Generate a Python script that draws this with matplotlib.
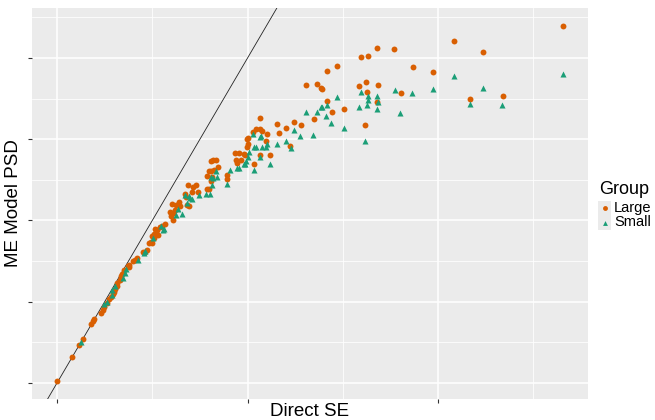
import matplotlib
matplotlib.use("Agg")
import matplotlib.pyplot as plt

plt.rcParams['font.family'] = ['Liberation Sans', 'DejaVu Sans']

# Direct SE vs ME model PSD (x1000)
large_se = [182.8, 154.2, 161.8, 158.4, 167.1, 134.0, 138.5, 129.8, 131.6, 123.5,
            120.9, 143.4, 148.7, 140.3, 129.3, 131.1, 134.3, 131.4, 134.0, 130.8,
            125.3, 120.9, 122.2, 117.5, 114.0, 115.4, 118.2, 119.3, 119.6, 107.7,
            108.3, 110.1, 112.2, 111.2, 103.3, 101.4, 102.2, 103.3, 103.8, 105.1,
            99.9, 100.1, 100.1, 99.9, 104.9, 103.3, 105.9, 96.7, 97.8, 99.1,
            99.3, 97.0, 97.2, 101.7, 98.3, 90.4, 90.9, 91.7, 92.3, 89.9,
            90.4, 91.2, 89.4, 90.7, 90.4, 89.4, 89.9, 94.6, 94.6, 84.4,
            85.7, 86.5, 85.4, 87.0, 83.6, 83.9, 82.0, 82.3, 81.2, 80.2,
            84.1, 84.6, 81.0, 80.4, 79.9, 80.4, 79.7, 78.3, 77.6, 77.0,
            75.7, 76.2, 75.5, 76.5, 74.9, 75.5, 74.7, 74.1, 74.9, 73.6,
            73.1, 72.6, 71.0, 70.5, 69.9, 68.9, 68.9, 68.6, 67.6, 66.8,
            67.1, 66.5, 65.7, 65.7, 65.2, 65.0, 64.7, 64.2, 63.6, 63.1,
            62.3, 62.1, 61.5, 59.7, 59.4, 58.9, 56.8, 55.8, 53.9, 50.0]
large_psd = [104.9, 102.6, 100.9, 93.7, 94.2, 101.5, 101.4, 100.2, 100.3, 98.8,
             98.0, 98.6, 97.8, 94.6, 95.7, 96.3, 95.8, 94.8, 93.2, 89.7,
             92.2, 93.4, 91.7, 90.6, 89.7, 95.8, 96.0, 95.4, 95.2, 89.8,
             88.5, 89.2, 90.2, 86.5, 90.8, 88.6, 89.1, 89.1, 88.8, 88.3,
             87.5, 87.7, 86.8, 86.3, 87.2, 85.1, 85.1, 85.4, 85.4, 85.2,
             85.1, 84.3, 83.8, 83.7, 84.3, 84.2, 84.3, 84.3, 83.2, 82.6,
             82.6, 82.8, 81.8, 81.7, 81.1, 79.8, 79.8, 82.0, 81.4, 80.5,
             80.2, 80.5, 79.4, 79.4, 79.1, 78.6, 77.8, 77.2, 77.4, 77.5,
             77.4, 77.2, 76.6, 76.2, 75.7, 75.1, 76.3, 74.5, 74.2, 74.0,
             73.7, 73.5, 72.9, 72.8, 72.6, 72.3, 71.7, 71.5, 71.5, 70.5,
             70.2, 70.2, 69.2, 68.9, 68.8, 68.2, 67.8, 68.0, 67.4, 66.5,
             66.8, 65.8, 65.4, 64.9, 64.5, 64.0, 63.7, 63.2, 62.9, 62.3,
             61.7, 61.2, 60.8, 59.8, 59.5, 59.1, 56.8, 55.8, 54.0, 50.3]

small_se = [182.8, 154.2, 161.8, 158.4, 166.8, 148.7, 143.2, 138.7, 140.0, 129.8,
            131.6, 134.0, 131.6, 134.3, 129.3, 131.4, 134.0, 130.8, 125.3, 123.5,
            120.9, 120.6, 121.9, 117.2, 113.8, 115.4, 118.2, 119.3, 119.6, 107.7,
            110.1, 112.2, 111.4, 103.3, 103.5, 101.7, 102.2, 101.4, 103.8, 104.9,
            105.1, 100.4, 100.1, 103.3, 105.9, 99.1, 101.7, 97.2, 97.8, 99.6,
            99.3, 90.4, 90.9, 91.7, 92.0, 90.7, 94.6, 95.4, 89.1, 90.2,
            84.9, 85.4, 83.6, 84.6, 87.3, 81.8, 82.8, 81.2, 84.1, 77.3,
            78.1, 77.8, 75.2, 73.1, 72.8, 71.3, 68.1, 67.8, 67.3, 65.2,
            64.4, 64.4, 63.1, 62.3, 56.3]
small_psd = [97.5, 97.2, 95.4, 92.9, 92.8, 95.2, 94.6, 95.1, 91.5, 94.8,
             94.2, 94.2, 93.5, 93.2, 92.5, 92.8, 92.2, 87.2, 89.2, 94.0,
             92.8, 91.1, 90.0, 88.2, 88.0, 91.7, 91.7, 92.5, 92.5, 86.8,
             87.2, 88.9, 86.2, 87.8, 88.0, 86.3, 86.3, 88.3, 86.3, 86.3,
             86.8, 85.5, 84.8, 84.8, 83.7, 83.7, 82.8, 83.1, 83.1, 84.2,
             83.7, 81.7, 81.5, 82.6, 81.7, 80.5, 80.6, 82.8, 79.1, 79.1,
             78.5, 78.3, 78.9, 78.8, 78.9, 76.8, 76.0, 75.8, 77.7, 74.2,
             73.7, 73.5, 72.3, 70.3, 70.0, 68.9, 67.5, 66.9, 66.2, 64.9,
             64.3, 63.5, 62.5, 62.2, 56.2]

groups = ['Large', 'Small']
colors = {'Large': '#D95F02', 'Small': '#1B9E77'}
markers = {'Large': 'o', 'Small': '^'}

fig = plt.figure(figsize=(6.55, 4.2), dpi=100)
ax = fig.add_axes([32/655, 1 - 399/420, 556/655, 391/420])
ax.set_facecolor('#EBEBEB')

ax.set_xlim(43.4, 189.4)
ax.set_ylim(47.5, 107.7)
ax.set_xticks([50, 100, 150])
ax.set_xticks([75, 125, 175], minor=True)
ax.set_yticks([50, 62.5, 75, 87.5, 100])
ax.set_yticks([56.25, 68.75, 81.25, 93.75, 106.25], minor=True)
ax.grid(which='major', color='white', linewidth=1.1)
ax.grid(which='minor', color='white', linewidth=0.55)
ax.set_axisbelow(True)
ax.tick_params(which='major', length=3, width=0.8, color='#333333',
               labelbottom=False, labelleft=False)
ax.tick_params(which='minor', length=0)
for s in ax.spines.values():
    s.set_visible(False)

ax.axline((50, 50), slope=1, color='#222222', linewidth=0.6, zorder=2)

ax.scatter(large_se, large_psd, s=18, marker=markers['Large'],
           color=colors['Large'], linewidths=0, zorder=3)
ax.scatter(small_se, small_psd, s=19, marker=markers['Small'],
           color=colors['Small'], linewidths=0, zorder=3)

fig.text(310/655, 4/420, 'Direct SE', fontsize=13.5, ha='center', va='baseline')
ax.set_ylabel('ME Model PSD', fontsize=13.5, labelpad=4)

# legend, laid out by hand like ggplot's guide
fig.text(599/655, 1 - 194/420, 'Group', fontsize=13, ha='left', va='baseline')
key_ax = fig.add_axes([598/655, 1 - 230/420, 13/655, 29/420])
key_ax.set_facecolor('#EBEBEB')
key_ax.set_xlim(0, 1)
key_ax.set_ylim(0, len(groups))
key_ax.set_xticks([])
key_ax.set_yticks([])
for s in key_ax.spines.values():
    s.set_visible(False)
for i, g in enumerate(groups):
    yk = len(groups) - i - 0.5
    key_ax.plot([0.5], [yk], linestyle='none', marker=markers[g],
                color=colors[g], markersize=3.5, markeredgewidth=0)
    fig.text(614/655, 1 - (208 + 14 * i)/420, g, fontsize=10.5,
             ha='left', va='center')

fig.savefig('out.png', dpi=100)
